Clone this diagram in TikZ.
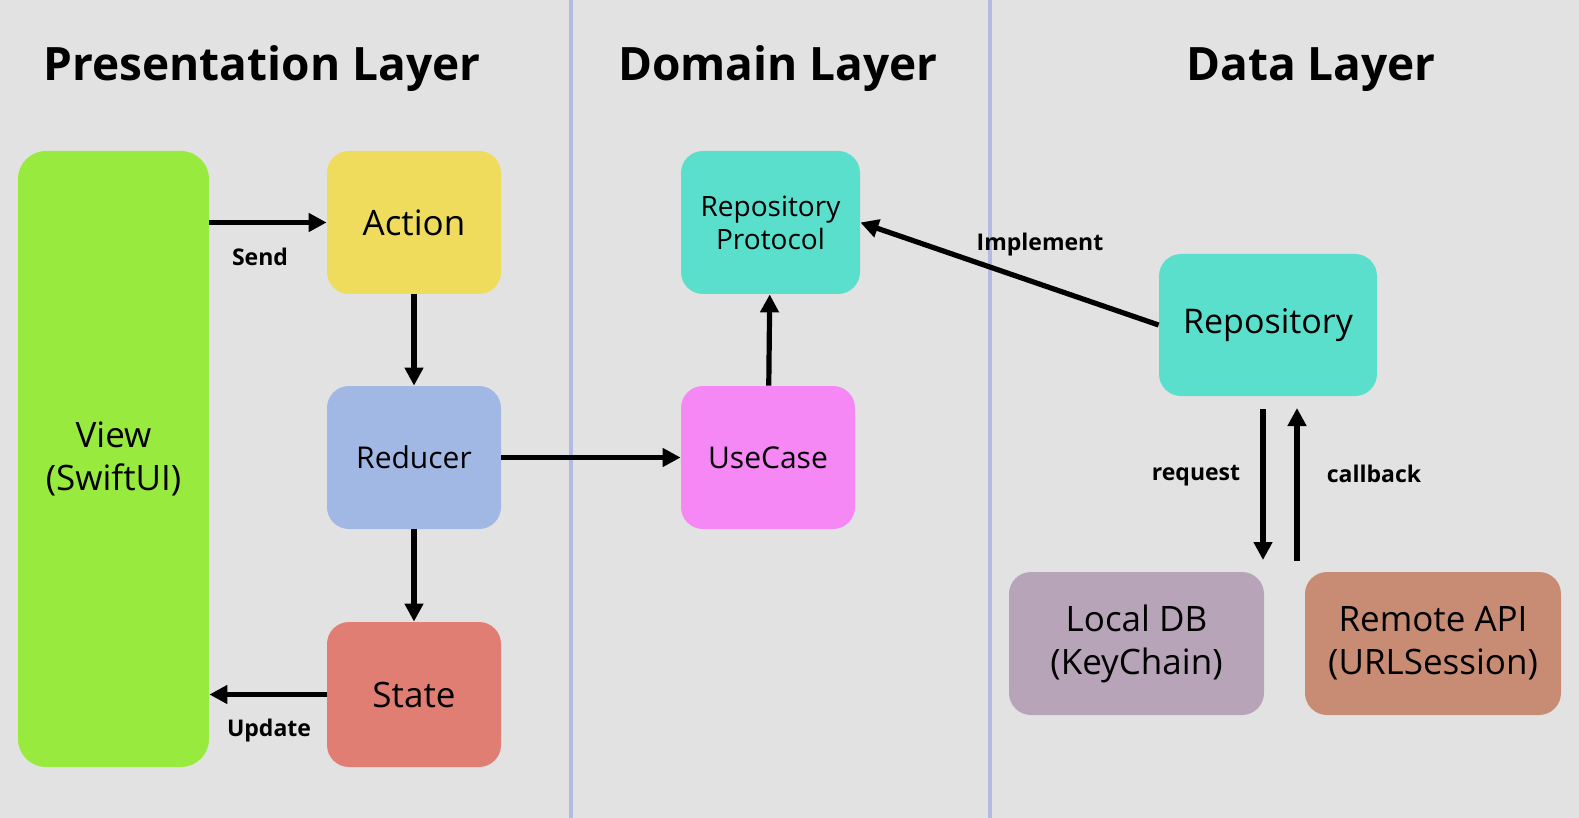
\documentclass[tikz,border=0pt]{standalone}
\usepackage{fontspec}
\setmainfont{Open Sans}
\usepackage{tikz}
\usetikzlibrary{arrows.meta}

\definecolor{bgGray}{HTML}{E2E2E2}
\definecolor{divBlue}{HTML}{B4BBE3}
\definecolor{viewGreen}{HTML}{98EB3E}
\definecolor{actionYellow}{HTML}{F0DC5C}
\definecolor{reducerBlue}{HTML}{A1B8E4}
\definecolor{stateRed}{HTML}{E07E74}
\definecolor{repoTeal}{HTML}{5ADFCC}
\definecolor{usecasePink}{HTML}{F588F5}
\definecolor{localPurple}{HTML}{B8A4B8}
\definecolor{remoteBrown}{HTML}{C88B74}

\begin{document}
\begin{tikzpicture}[x=0.5pt,y=-0.5pt,
    box/.style={rectangle,rounded corners=11pt,inner sep=0pt,align=center,
        minimum width=87pt,minimum height=71.5pt,
        font=\fontsize{17.5}{21.5}\selectfont},
    small/.style={font=\fontsize{14}{16.5}\selectfont},
    title/.style={anchor=base,font=\bfseries\fontsize{23}{27}\selectfont},
    lbl/.style={anchor=base,font=\bfseries\fontsize{11.5}{14}\selectfont},
    arr/.style={line width=2.6pt,-{Triangle[length=9pt,width=9pt]}}]

\fill[bgGray] (0,0) rectangle (1579,818);
\fill[divBlue] (569,0) rectangle (573,818);
\fill[divBlue] (988,0) rectangle (992,818);

\node[title] (tpres) at (262,81) {Presentation Layer};
\node[title] (tdom) at (778,81) {Domain Layer};
\node[title] (tdata) at (1311,81) {Data Layer};

\node[box,fill=viewGreen,rounded corners=14pt,minimum width=95.5pt,minimum height=308pt] (view) at (113.5,459) {View\\(SwiftUI)};
\node[box,fill=actionYellow] (action) at (414,222.5) {Action};
\node[box,fill=reducerBlue,font=\fontsize{15}{18}\selectfont] (reducer) at (414,457.5) {Reducer};
\node[box,fill=stateRed,minimum height=72.5pt] (state) at (414,694.5) {State};

\node[box,fill=repoTeal,minimum width=89.5pt,small] (repoproto) at (770.5,222.5) {Repository\\Protocol};
\node[box,fill=usecasePink,font=\fontsize{15}{18}\selectfont] (usecase) at (768,457.5) {UseCase};

\node[box,fill=repoTeal,minimum width=109pt,minimum height=71pt,font=\fontsize{17}{20}\selectfont] (repo) at (1268,325) {\raisebox{-2pt}{Repository}};
\node[box,fill=localPurple,minimum width=127.5pt] (localdb) at (1136.5,643.5) {Local DB\\(KeyChain)};
\node[box,fill=remoteBrown,minimum width=128pt] (remote) at (1433,643.5) {Remote API\\(URLSession)};

\coordinate (reqtop) at (1263,409);
\coordinate (reqbot) at (1263,560);
\coordinate (cbbot) at (1297,561);
\coordinate (cbtop) at (1297,408);

\draw[arr] (view.east |- action.west) -- (action.west);
\draw[arr] (action) -- (reducer);
\draw[arr] (reducer) -- (state);
\draw[arr] (state.west) -- (view.east |- state.west);
\draw[arr] (reducer) -- (usecase);
\draw[arr] (usecase) -- (repoproto);
\draw[arr] (repo.west) -- (repoproto.east);
\draw[arr] (reqtop) -- (reqbot);
\draw[arr] (cbbot) -- (cbtop);

\node[lbl] (lsend) at (260,265) {Send};
\node[lbl] (lupdate) at (269,736) {Update};
\node[lbl] (limpl) at (1040,251) {Implement};
\node[lbl] (lreq) at (1196,480) {request};
\node[lbl] (lcb) at (1374,482) {callback};
\end{tikzpicture}
\end{document}
